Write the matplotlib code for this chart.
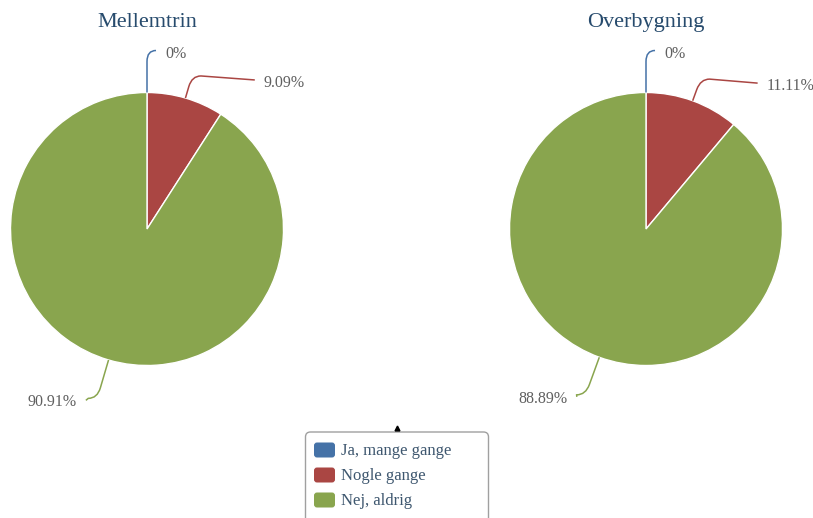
import numpy as np
import matplotlib
matplotlib.use("Agg")
import matplotlib.pyplot as plt
from matplotlib.patches import FancyBboxPatch
from matplotlib.path import Path
from matplotlib.patches import PathPatch

# ---- data ----
categories = ["Ja, mange gange", "Nogle gange", "Nej, aldrig"]
titles = ["Mellemtrin", "Overbygning"]
mellemtrin = [0.0, 9.09, 90.91]
overbygning = [0.0, 11.11, 88.89]
series = [mellemtrin, overbygning]

# ---- style ----
W, H = 813, 518
colors = ["#4572A7", "#AA4643", "#89A54E"]
title_color = "#274b6d"
label_color = "#606060"
legend_text_color = "#3E576F"
serif = ["Liberation Serif", "DejaVu Serif"]

centers_px = [(147, 229), (646, 229)]
radius = 136.5
label_ring = 187.0
# knee distance beyond the rim, label vertical offset (px, downward)
knee_len = [42, 23, 40]
label_dy = [3, 7, 4]

def py(y):
    return H - y

fig = plt.figure(figsize=(W / 100, H / 100), dpi=100)
ax = fig.add_axes([0, 0, 1, 1])

for k, vals in enumerate(series):
    cx, cy = centers_px[k][0], py(centers_px[k][1])
    ax.pie(vals, colors=colors, startangle=90, counterclock=False,
           center=(cx, cy), radius=radius, normalize=True,
           wedgeprops=dict(edgecolor="white", linewidth=1.0))
    ax.text(cx, py(27), titles[k], ha="center", va="baseline",
            fontsize=16, color=title_color, family=serif)
    total = float(sum(vals))
    cum = 0.0
    for i, v in enumerate(vals):
        frac_mid = (cum + v / 2.0) / total
        cum += v
        th = np.deg2rad(90 - 360 * frac_mid)
        u = np.array([np.cos(th), np.sin(th)])
        c = np.array([cx, cy])
        p0 = c + radius * u
        knee = c + (radius + knee_len[i]) * u
        sgn = 1 if u[0] >= -1e-9 else -1
        ly = knee[1] - label_dy[i]
        if i == 0:
            lx = knee[0] + sgn * 18
        else:
            dyy = abs(ly - cy)
            lx = cx + sgn * np.sqrt(max(label_ring ** 2 - dyy ** 2, 0))
        a = knee - 11 * u
        b = knee + np.array([sgn * 9, 0])
        e = np.array([lx - sgn * 9, ly + (3 if u[1] > 0 else 2)])
        if i == 0:
            e = b
        verts = [tuple(p0), tuple(a), tuple(knee), tuple(b), tuple(e)]
        codes = [Path.MOVETO, Path.LINETO, Path.CURVE3, Path.CURVE3, Path.LINETO]
        ax.add_patch(PathPatch(Path(verts, codes), fill=False,
                               edgecolor=colors[i], linewidth=1.1))
        ax.text(lx, ly, f"{v:g}%" if v == 0 else f"{v:.2f}%",
                ha="left" if sgn > 0 else "right", va="center",
                fontsize=11.5, color=label_color, family=serif)

# ---- legend ----
box = FancyBboxPatch((305.5, py(525)), 183, 525 - 432,
                     boxstyle="round,pad=0,rounding_size=5",
                     facecolor="white", edgecolor="#a0a0a0", linewidth=1.0)
ax.add_patch(box)
row_y = [450, 475, 500]
for i, name in enumerate(categories):
    sw = FancyBboxPatch((314, py(row_y[i] + 7.5)), 21, 15,
                        boxstyle="round,pad=0,rounding_size=3",
                        facecolor=colors[i], edgecolor="none")
    ax.add_patch(sw)
    ax.text(341, py(row_y[i] + 1), name, ha="left", va="center",
            fontsize=12, color=legend_text_color, family=serif)

ax.plot([397], [py(428)], marker="^", markersize=3.5, color="black")

ax.set_xlim(0, W)
ax.set_ylim(0, H)
ax.set_aspect("equal")
ax.axis("off")
fig.savefig("out.png", dpi=100)
